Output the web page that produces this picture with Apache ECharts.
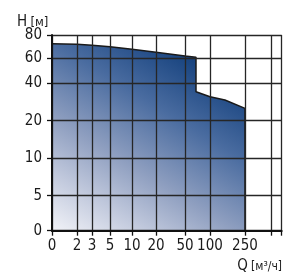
<!DOCTYPE html>
<html>
<head>
<meta charset="utf-8">
<script src="https://cdn.jsdelivr.net/npm/echarts@6/dist/echarts.min.js"></script>
<style>
html, body { margin: 0; padding: 0; background: #fff; }
#chart { width: 283px; height: 274px; }
</style>
</head>
<body>
<div id="chart"></div>
<script>
// шкала Q (неравномерная): отметки, подписи и их место на оси
const qTicks = [0, 2, 3, 5, 10, 20, 50, 100, 250, 500, 1000]
const qLabels = ['0', '2', '3', '5', '10', '20', '50', '100', '250', '', '']
const qScale = [0, 25, 40, 58, 80, 104, 133, 158, 193, 219.7, 229.7]

// шкала H
const hTicks = [0, 5, 10, 20, 40, 60, 80]
const hLabels = ['0', '5', '10', '20', '40', '60', '80']
const hScale = [0, 35, 72.4, 110, 147.4, 172.4, 195.7]

// рабочее поле насоса
const flow = [0, 2, 3, 5, 10, 20, 50, 72, 72, 100, 164, 250, 250]
const head = [72.5, 72, 71.2, 70, 67.7, 65.2, 62, 60.9, 35.5, 32.8, 31.1, 26.6, 0]

const FONT = "'Liberation Sans Narrow', 'DejaVu Sans Condensed', 'Liberation Sans', Arial, sans-serif"

// перевод значения в координату оси (кусочно-линейно между отметками)
const toAxis = (v, ticks, scale) => {
    for (let i = 1; i < ticks.length; i++) {
        if (v <= ticks[i]) {
            const k = (v - ticks[i - 1]) / (ticks[i] - ticks[i - 1])
            return scale[i - 1] + k * (scale[i] - scale[i - 1])
        }
    }
    return scale[scale.length - 1]
}

const labelOf = (v, scale, labels) => {
    const i = scale.findIndex(s => Math.abs(s - v) < 0.01)
    return i < 0 ? '' : labels[i]
}

const points = flow.map((q, i) => [toAxis(q, qTicks, qScale), toAxis(head[i], hTicks, hScale)])

const chart = echarts.init(document.getElementById('chart'))

const gridLine = { show: true, lineStyle: { color: '#262626', width: 1.3 } }

chart.setOption({
    animation: false,
    grid: { left: 52, top: 35, right: 1.3, bottom: 43.3 },
    xAxis: {
        type: 'value',
        min: 0,
        max: qScale[qScale.length - 1],
        z: 3,
        axisLine: { show: true, lineStyle: { color: '#111', width: 2 } },
        axisTick: { show: true, customValues: qScale, length: 5, lineStyle: { color: '#111', width: 1.3 } },
        axisLabel: {
            customValues: qScale.slice(0, 9),
            formatter: v => labelOf(v, qScale, qLabels),
            margin: 8,
            fontSize: 15,
            color: '#1a1a1a',
            fontFamily: FONT
        },
        splitLine: gridLine
    },
    yAxis: {
        type: 'value',
        min: 0,
        max: hScale[hScale.length - 1],
        z: 3,
        axisLine: { show: true, lineStyle: { color: '#111', width: 2 } },
        axisTick: { show: true, customValues: hScale, length: 5, lineStyle: { color: '#111', width: 1.3 } },
        axisLabel: {
            customValues: hScale,
            formatter: v => labelOf(v, hScale, hLabels),
            margin: 10,
            fontSize: 15,
            color: '#1a1a1a',
            fontFamily: FONT
        },
        splitLine: gridLine
    },
    graphic: [
        {
            type: 'text',
            left: 17,
            top: 15,
            style: {
                text: '{a|H} {b|[м]}',
                rich: {
                    a: { fontSize: 15, fontFamily: FONT, fill: '#1a1a1a' },
                    b: { fontSize: 13, fontFamily: FONT, fill: '#1a1a1a' }
                }
            }
        },
        {
            type: 'text',
            right: 1,
            bottom: 0,
            style: {
                text: '{a|Q} {b|[м³/ч]}',
                rich: {
                    a: { fontSize: 15, fontFamily: FONT, fill: '#1a1a1a' },
                    b: { fontSize: 12, fontFamily: FONT, fill: '#1a1a1a' }
                }
            }
        }
    ],
    series: [{
        type: 'line',
        data: points,
        symbol: 'none',
        z: 2,
        lineStyle: { color: '#1a1a1a', width: 1.5 },
        areaStyle: {
            opacity: 1,
            color: new echarts.graphic.LinearGradient(0, 1, 0.6, 0, [
                { offset: 0, color: '#f2f3f8' },
                { offset: 0.23, color: '#c0c8dc' },
                { offset: 0.44, color: '#8f9fc0' },
                { offset: 0.73, color: '#4a6ca0' },
                { offset: 1, color: '#17437f' }
            ])
        }
    }]
})
</script>
</body>
</html>
